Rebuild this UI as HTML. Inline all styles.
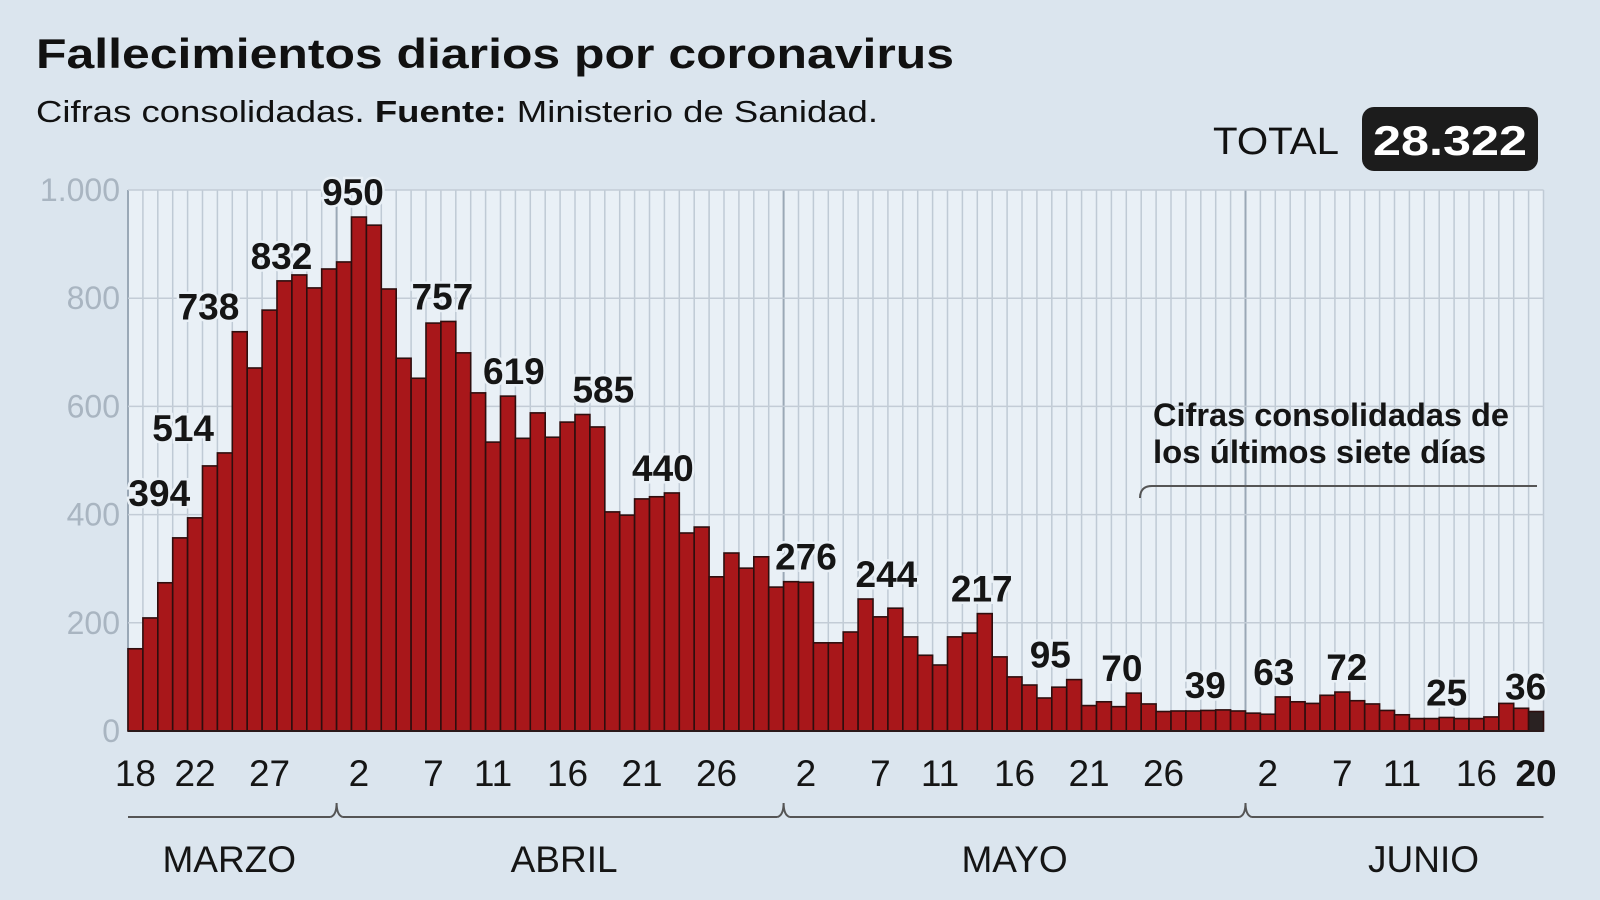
<!DOCTYPE html>
<html><head><meta charset="utf-8"><style>
html,body{margin:0;padding:0;background:#dbe5ee;}
svg{display:block;font-family:"Liberation Sans",sans-serif;}
</style></head><body>
<svg id="chart" width="1600" height="900" viewBox="0 0 1600 900" xmlns="http://www.w3.org/2000/svg">
<rect x="0" y="0" width="1600" height="900" fill="#dbe5ee"/>
<text x="36" y="68" font-size="42" font-weight="bold" fill="#111" textLength="918" lengthAdjust="spacingAndGlyphs">Fallecimientos diarios por coronavirus</text>
<text x="36" y="122" font-size="31" fill="#111" textLength="842" lengthAdjust="spacingAndGlyphs">Cifras consolidadas. <tspan font-weight="bold">Fuente:</tspan> Ministerio de Sanidad.</text>
<text x="1213" y="154" font-size="38" fill="#111" textLength="126" lengthAdjust="spacingAndGlyphs">TOTAL</text>
<rect x="1362" y="107" width="176" height="64" rx="12" fill="#1c1c1c"/>
<text x="1450" y="155" font-size="42" font-weight="bold" fill="#fff" text-anchor="middle" textLength="154" lengthAdjust="spacingAndGlyphs">28.322</text>
<g id="plot"></g>
</svg>
<script>
const days = ["18","22","27","2","7","11","16","21","26","2","7","11","16","21","26","2","7","11","16","20"];
const dayIdx = [0,4,9,15,20,24,29,34,39,45,50,54,59,64,69,76,81,85,90,94];
const values = [152,209,274,357,394,490,514,738,671,778,832,843,819,854,867,950,935,817,689,652,754,757,699,625,534,619,541,588,543,571,585,562,405,399,429,433,440,366,377,285,329,301,322,266,276,275,163,163,183,244,211,227,174,140,122,174,181,217,137,100,85,61,81,95,47,54,45,70,50,36,37,37,38,39,37,33,31,63,54,51,66,72,56,50,38,30,23,23,25,23,23,26,51,42,36];
const labelVals = [394,514,738,832,950,757,619,585,440,276,244,217,95,70,39,63,72,25,36];
const labelPos = [2.1,3.7,5.4,10.3,15.1,21.1,25.9,31.9,35.9,45.5,50.9,57.3,61.9,66.7,72.3,76.9,81.8,88.5,93.8];
const yTicks = [0,200,400,600,800,1000];
const yTickLabels = ["0","200","400","600","800","1.000"];
const months = ["MARZO","ABRIL","MAYO","JUNIO"];
const monthStart = [0,14,44,75];
const monthEnd = [14,44,75,95];
const monthLabelShift = [0,4,0,26];

const NS="http://www.w3.org/2000/svg";
const g=document.getElementById('plot');
const X0=128, BW=14.9, Y0=731, K=0.541;
const x=i=>X0+i*BW;
const y=v=>Y0-v*K;
function mk(t,a,p){const e=document.createElementNS(NS,t);for(const k in a)e.setAttribute(k,a[k]);(p||g).appendChild(e);return e;}
const N=values.length;
let bg=mk('rect',{x:X0,y:y(1000),width:N*BW,height:Y0-y(1000),fill:'#e9f0f6'});


for(let i=0;i<=N;i++){
  const l=mk('line',{x1:x(i),x2:x(i),y1:y(1000),y2:Y0,stroke:monthStart.includes(i)?'#9aa8b6':'#bfcad5','stroke-width':monthStart.includes(i)?2:1.5});
  
  
}
yTicks.forEach((v,j)=>{
  const l=mk('line',{x1:X0,x2:X0+N*BW,y1:y(v),y2:y(v),stroke:'#c3ccd6','stroke-width':1.5});
  
  
  const t=mk('text',{x:120,y:y(v)+11,'font-size':32,fill:'#a9b5c1','text-anchor':'end'});
  t.textContent=yTickLabels[j];
  
  
});
values.forEach((v,i)=>{
  const r=mk('rect',{x:x(i),y:y(v),width:BW,height:v*K,fill:i===N-1?'#2a2222':'#a8171a',stroke:'#2e0e0e','stroke-width':1.6});
  
  
});
mk('line',{x1:X0,x2:X0+N*BW,y1:Y0,y2:Y0,stroke:'#2a1a1a','stroke-width':2});
labelVals.forEach((v,j)=>{
  const t=mk('text',{x:x(labelPos[j]),y:y(v)-12,'font-size':37,'font-weight':j===4||j===labelVals.length-1?'bold':'600',fill:'#151515','text-anchor':'middle',stroke:'#e9f0f6','stroke-width':5,'paint-order':'stroke'});
  t.textContent=v;
  
  
});
days.forEach((d,j)=>{
  const t=mk('text',{x:x(dayIdx[j]+0.5),y:786,'font-size':37,fill:'#151515','text-anchor':'middle','font-weight':j===days.length-1?'bold':'normal'});
  t.textContent=d;
  
  
});
months.forEach((m,j)=>{
  const a=x(monthStart[j])+(j?6:0), b=x(monthEnd[j])-(j<3?6:0), yy=817;
  const p=mk('path',{d:`M${a},${yy} L${b},${yy}`,stroke:'#555',fill:'none','stroke-width':2});
  
  
  if(j>0){const c=mk('path',{d:`M${a-12},${yy} Q${a-6},${yy-2} ${a-6},${yy-14} Q${a-6},${yy-2} ${a},${yy}`,stroke:'#555',fill:'none','stroke-width':2});
    
    }
  const t=mk('text',{x:(a+b)/2+monthLabelShift[j],y:872,'font-size':37,fill:'#151515','text-anchor':'middle'});
  t.textContent=m;
  
  
});
const an=mk('path',{d:'M1140,498 Q1140,486 1152,486 L1537,486',stroke:'#555',fill:'none','stroke-width':2});


[["Cifras consolidadas de",426,356],["los últimos siete días",463,333]].forEach(([s,yy,w])=>{
  const t=mk('text',{x:1153,y:yy,'font-size':32,'font-weight':'600',fill:'#151515',textLength:w,lengthAdjust:'spacingAndGlyphs'});
  t.textContent=s;
  
  
});
</script>
</body></html>
